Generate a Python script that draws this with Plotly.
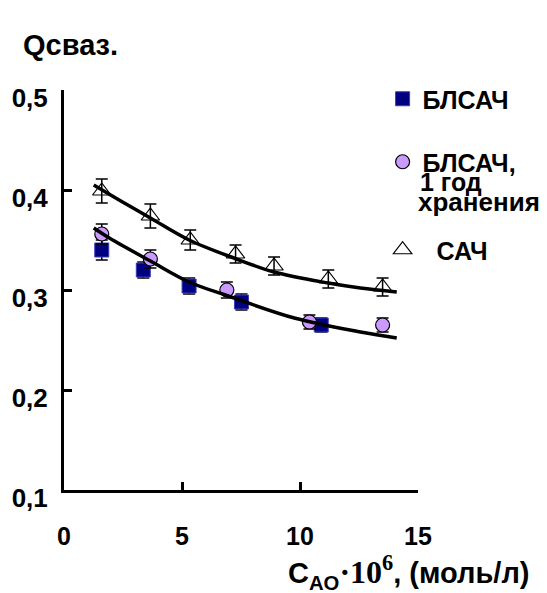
import plotly.graph_objects as go

# --- data ---
sq_x = [1.6, 3.36, 5.3, 7.52, 10.9]
sq_y = [0.340, 0.320, 0.304, 0.288, 0.265]
sq_err = [0.010, 0.008, 0.008, 0.008, 0.007]

ci_x = [1.6, 3.66, 6.9, 10.4, 13.5]
ci_y = [0.356, 0.331, 0.300, 0.268, 0.265]
ci_err = [0.010, 0.009, 0.008, 0.007, 0.007]

tr_x = [1.6, 3.66, 5.35, 7.27, 8.9, 11.2, 13.5]
tr_y = [0.399, 0.374, 0.350, 0.336, 0.324, 0.311, 0.303]
tr_err = [0.012, 0.012, 0.010, 0.009, 0.009, 0.009, 0.009]

fit_up_x = [1.26, 2.48, 3.66, 5.3, 7.2, 8.9, 11.2, 12.56, 14.1]
fit_up_y = [0.405, 0.388, 0.372, 0.350, 0.332, 0.318, 0.307, 0.302, 0.298]
fit_lo_x = [1.26, 1.92, 3.66, 5.3, 6.96, 9.76, 12.56, 14.1]
fit_lo_y = [0.362, 0.352, 0.329, 0.308, 0.294, 0.272, 0.258, 0.252]

x_ticks = [0, 5, 10, 15]
y_ticks = [0.1, 0.2, 0.3, 0.4, 0.5]

FONT = "Liberation Sans, Arial, sans-serif"
FS = 25

fig = go.Figure()

fig.add_trace(go.Scatter(
    x=tr_x, y=tr_y, mode="markers", name="  САЧ", legend="legend3",
    marker=dict(symbol="triangle-up-open", size=16, color="black", line=dict(width=1.2, color="black")),
    error_y=dict(type="data", array=tr_err, color="black", thickness=1.5, width=6),
))
fig.add_trace(go.Scatter(
    x=sq_x, y=sq_y, mode="markers", name="БЛСАЧ", legend="legend",
    marker=dict(symbol="square", size=14, color="#000080", line=dict(width=1, color="#3d3db8")),
    error_y=dict(type="data", array=sq_err, color="black", thickness=1.5, width=6),
))
fig.add_trace(go.Scatter(
    x=ci_x, y=ci_y, mode="markers", name="БЛСАЧ,", legend="legend2",
    marker=dict(symbol="circle", size=14, color="#CC99FF", line=dict(width=1.2, color="black")),
    error_y=dict(type="data", array=ci_err, color="black", thickness=1.5, width=6),
))
fig.add_trace(go.Scatter(
    x=fit_up_x, y=fit_up_y, mode="lines", line=dict(color="black", width=3.5, shape="spline"),
    showlegend=False, hoverinfo="skip",
))
fig.add_trace(go.Scatter(
    x=fit_lo_x, y=fit_lo_y, mode="lines", line=dict(color="black", width=3.5, shape="spline"),
    showlegend=False, hoverinfo="skip",
))

axis_common = dict(
    showline=True, linewidth=3, linecolor="black", ticks="inside", ticklen=8,
    tickwidth=2.5, tickcolor="black", showgrid=False, zeroline=False,
)

fig.update_xaxes(range=[0, 15], tickvals=x_ticks, ticktext=[str(v) for v in x_ticks],
                 ticklabelstandoff=22,
                 tickfont=dict(family=FONT, size=FS, color="black", weight="bold"),
                 **axis_common)
fig.update_yaxes(range=[0.1, 0.5], tickvals=y_ticks, tickformat=".1f",
                 ticklabelstandoff=8, ticklabelshift=8,
                 tickfont=dict(family=FONT, size=26, color="black", weight="bold"),
                 **axis_common)

leg_common = dict(font=dict(family=FONT, size=FS, color="black", weight="bold"),
                  bgcolor="rgba(0,0,0,0)", borderwidth=0, xanchor="left", yanchor="middle",
                  itemclick=False)

fig.update_layout(
    width=547, height=593,
    margin=dict(l=61, r=129, t=90, b=103),
    plot_bgcolor="white", paper_bgcolor="white",
    separators=", ",
    legend=dict(x=0.9, y=0.9775, **leg_common),
    legend2=dict(x=0.9, y=0.82, **leg_common),
    legend3=dict(x=0.9, y=0.60, **leg_common),
    annotations=[
        dict(text="Qсваз.", xref="paper", yref="paper", x=-0.121, y=1.1125,
             xanchor="left", yanchor="middle", showarrow=False,
             font=dict(family=FONT, size=29, color="black", weight="bold")),
        dict(text="1 год", xref="paper", yref="paper", x=(418 - 61) / 357, y=(490 - 182) / 400,
             xanchor="left", yanchor="middle", showarrow=False,
             font=dict(family=FONT, size=FS, color="black", weight="bold")),
        dict(text="хранения", xref="paper", yref="paper", x=(416 - 61) / 357, y=(490 - 202) / 400,
             xanchor="left", yanchor="middle", showarrow=False,
             font=dict(family=FONT, size=26, color="black", weight="bold")),
        dict(text="C<sub>AO</sub><span style='font-family:Liberation Serif;font-size:32px'>·10<sup>6</sup></span>, (моль/л)",
             xref="paper", yref="paper", x=(285 - 61) / 357, y=(490 - 572) / 400,
             xanchor="left", yanchor="middle", showarrow=False,
             font=dict(family=FONT, size=29, color="black", weight="bold")),
    ],
)

fig.write_html("out.html")
